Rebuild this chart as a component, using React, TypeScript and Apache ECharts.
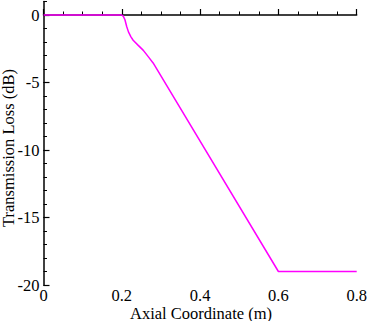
import React, { useEffect, useRef } from "react";
import * as echarts from "echarts";

const xValues = [0, 0.2, 0.204, 0.208, 0.2125, 0.217, 0.223, 0.229, 0.242, 0.255, 0.268, 0.28, 0.6, 0.8];
const lossValues = [0, 0, -0.1, -0.35, -0.85, -1.25, -1.6, -1.87, -2.25, -2.62, -3.1, -3.55, -19, -19];
const yMajorTicks = [-20, -15, -10, -5, 0];
const xTitle = "Axial Coordinate (m)";
const yTitle = "Transmission Loss (dB)";

const FONT = "'Liberation Serif', 'Times New Roman', serif";

export default function App() {
  const ref = useRef<HTMLDivElement>(null);
  useEffect(() => {
    if (!ref.current) return;
    const chart = echarts.init(ref.current, undefined, { renderer: "svg" });
    const grid = { left: 43.5, right: 13.3, top: 1.5, bottom: 36, containLabel: false, outerBoundsMode: "none" };
    chart.setOption({
      animation: false,
      grid,
      graphic: [
        {
          type: "text",
          x: 201,
          y: 313,
          style: {
            text: xTitle,
            font: `16.5px ${FONT}`,
            fill: "#000",
            align: "center",
            verticalAlign: "middle",
          },
        },
        {
          type: "text",
          x: 8,
          y: 148,
          rotation: Math.PI / 2,
          style: {
            text: yTitle,
            font: `16.5px ${FONT}`,
            fill: "#000",
            align: "center",
            verticalAlign: "middle",
          },
        },
      ],
      xAxis: {
        type: "value",
        min: 0,
        max: 0.8,
        interval: 0.2,
        axisLine: { show: true, lineStyle: { color: "#000", width: 1.5 } },
        axisTick: { show: true, inside: true, length: 6, lineStyle: { color: "#000", width: 1.2 } },
        minorTick: { show: true, splitNumber: 4, length: 3.5, lineStyle: { color: "#000", width: 1 } },
        splitLine: { show: false },
        axisLabel: {
          fontFamily: FONT,
          fontSize: 16.5,
          color: "#000",
          margin: 2,
          formatter: (v: number) => (v === 0 ? "0" : String(Math.round(v * 10) / 10)),
        },
      },
      yAxis: [
        {
          type: "value",
          min: -20,
          max: 1,
          interval: 1,
          axisLine: { show: true, lineStyle: { color: "#000", width: 1.5 } },
          axisTick: { show: true, inside: true, length: 3.5, lineStyle: { color: "#000", width: 1 } },
          splitLine: { show: false },
          axisLabel: {
            fontFamily: FONT,
            fontSize: 16.5,
            color: "#000",
            margin: 4,
            formatter: (v: number) => (yMajorTicks.indexOf(v) >= 0 ? String(v) : ""),
          },
        },
        {
          type: "value",
          min: -20,
          max: 1,
          position: "left",
          axisLine: { show: false },
          axisTick: {
            show: true,
            inside: true,
            length: 6,
            customValues: yMajorTicks,
            lineStyle: { color: "#000", width: 1.2 },
          },
          axisLabel: { show: false },
          splitLine: { show: false },
        },
      ],
      series: [
        {
          type: "line",
          yAxisIndex: 0,
          data: xValues.map((x, i) => [x, lossValues[i]]),
          showSymbol: false,
          lineStyle: { color: "#ff00ff", width: 1.5 },
          clip: false,
        },
      ],
    });
    return () => chart.dispose();
  }, []);
  return <div ref={ref} style={{ width: 370, height: 321, position: "absolute", left: 0, top: 0, background: "#fff" }} />;
}
